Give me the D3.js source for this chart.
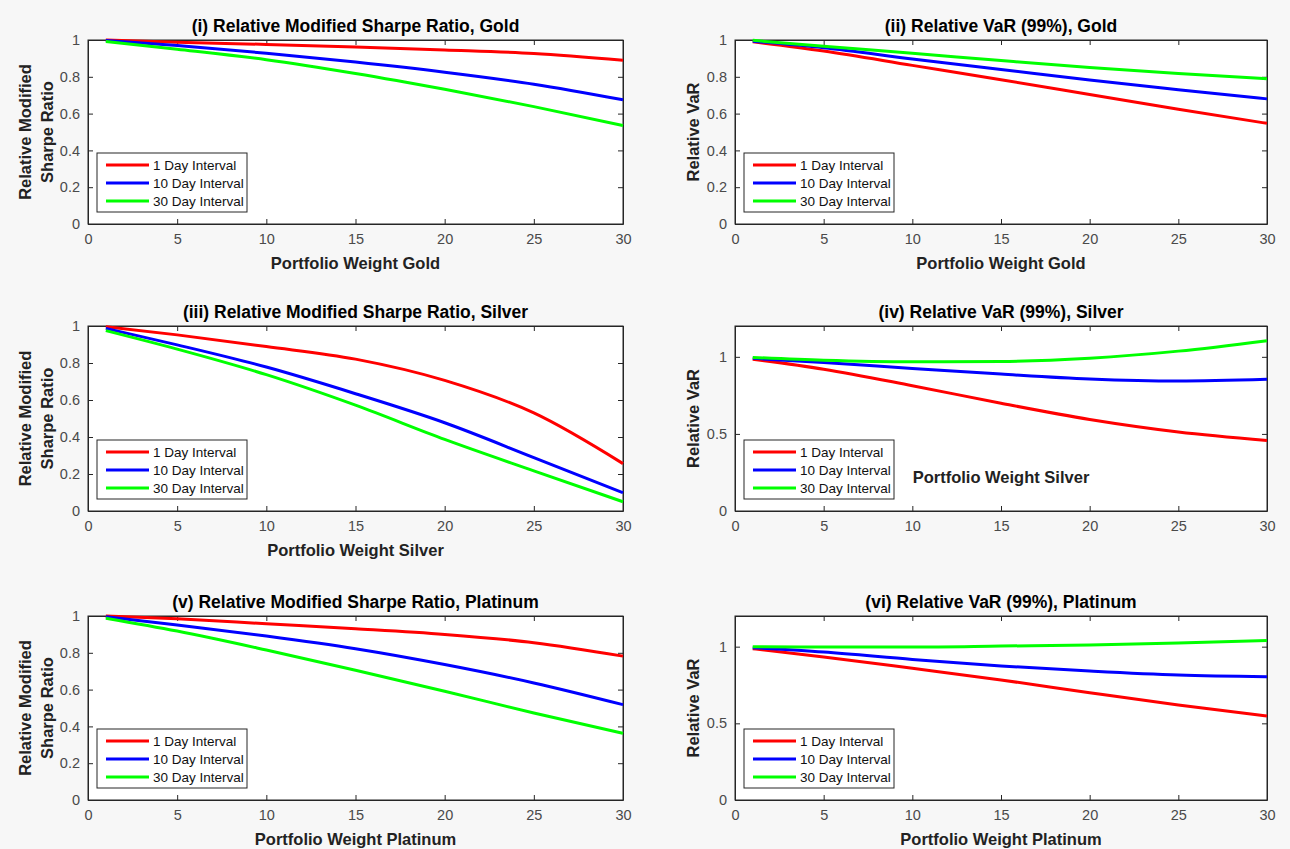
<!DOCTYPE html>
<html><head><meta charset="utf-8">
<script src="https://cdn.jsdelivr.net/npm/d3@7"></script>
<style>
html,body{margin:0;padding:0;background:#f7f7f7;}
svg{display:block;}
text{font-family:"Liberation Sans",Arial,Helvetica,sans-serif;}
</style></head>
<body>
<svg id="chart" width="1290" height="849"></svg>
<script>
// ---------- data ----------
const weights = [1, 5, 10, 15, 20, 25, 30];
const seriesNames = ["1 Day Interval", "10 Day Interval", "30 Day Interval"];
const xTicks = [0, 5, 10, 15, 20, 25, 30];
const yTicksSharpe = [0, 0.2, 0.4, 0.6, 0.8, 1];
const yTicksVaR = [0, 0.5, 1];

// (i) Relative Modified Sharpe Ratio, Gold
const sharpeGold1  = [1.000, 0.988, 0.976, 0.962, 0.946, 0.927, 0.890];
const sharpeGold10 = [0.997, 0.970, 0.928, 0.880, 0.825, 0.760, 0.675];
const sharpeGold30 = [0.992, 0.950, 0.893, 0.818, 0.732, 0.638, 0.535];
// (ii) Relative VaR (99%), Gold
const varGold1  = [0.990, 0.940, 0.862, 0.784, 0.704, 0.624, 0.547];
const varGold10 = [0.993, 0.958, 0.897, 0.840, 0.782, 0.730, 0.680];
const varGold30 = [0.998, 0.966, 0.928, 0.888, 0.850, 0.818, 0.790];
// (iii) Relative Modified Sharpe Ratio, Silver
const sharpeSilver1  = [0.996, 0.952, 0.889, 0.821, 0.706, 0.530, 0.256];
const sharpeSilver10 = [0.987, 0.898, 0.778, 0.634, 0.477, 0.289, 0.099];
const sharpeSilver30 = [0.975, 0.875, 0.737, 0.572, 0.387, 0.217, 0.050];
// (iv) Relative VaR (99%), Silver
const varSilver1  = [0.985, 0.920, 0.813, 0.699, 0.594, 0.513, 0.458];
const varSilver10 = [0.990, 0.963, 0.925, 0.888, 0.856, 0.843, 0.854];
const varSilver30 = [0.996, 0.978, 0.968, 0.970, 0.991, 1.037, 1.105];
// (v) Relative Modified Sharpe Ratio, Platinum
const sharpePlat1  = [1.000, 0.985, 0.958, 0.931, 0.900, 0.855, 0.782];
const sharpePlat10 = [0.996, 0.951, 0.891, 0.822, 0.736, 0.636, 0.518];
const sharpePlat30 = [0.988, 0.918, 0.815, 0.705, 0.591, 0.473, 0.362];
// (vi) Relative VaR (99%), Platinum
const varPlat1  = [0.987, 0.933, 0.859, 0.783, 0.700, 0.620, 0.548];
const varPlat10 = [0.993, 0.965, 0.917, 0.874, 0.841, 0.815, 0.804];
const varPlat30 = [1.000, 0.998, 0.998, 1.004, 1.011, 1.024, 1.041];

const colors = ["#ff0000", "#0000ff", "#00ff00"];

const panels = [
  {title:"(i) Relative Modified Sharpe Ratio, Gold", ylab:["Relative Modified","Sharpe Ratio"], xlab:"Portfolio Weight Gold", ymax:1, yt:yTicksSharpe, s:[sharpeGold1,sharpeGold10,sharpeGold30], col:0,row:0},
  {title:"(ii) Relative VaR (99%), Gold", ylab:["Relative VaR"], xlab:"Portfolio Weight Gold", ymax:1, yt:yTicksSharpe, s:[varGold1,varGold10,varGold30], col:1,row:0},
  {title:"(iii) Relative Modified Sharpe Ratio, Silver", ylab:["Relative Modified","Sharpe Ratio"], xlab:"Portfolio Weight Silver", ymax:1, yt:yTicksSharpe, s:[sharpeSilver1,sharpeSilver10,sharpeSilver30], col:0,row:1},
  {title:"(iv) Relative VaR (99%), Silver", ylab:["Relative VaR"], xlab:"Portfolio Weight Silver", xlabInside:true, ymax:1.2, yt:yTicksVaR, s:[varSilver1,varSilver10,varSilver30], col:1,row:1},
  {title:"(v) Relative Modified Sharpe Ratio, Platinum", ylab:["Relative Modified","Sharpe Ratio"], xlab:"Portfolio Weight Platinum", ymax:1, yt:yTicksSharpe, s:[sharpePlat1,sharpePlat10,sharpePlat30], col:0,row:2},
  {title:"(vi) Relative VaR (99%), Platinum", ylab:["Relative VaR"], xlab:"Portfolio Weight Platinum", ymax:1.2, yt:yTicksVaR, s:[varPlat1,varPlat10,varPlat30], col:1,row:2}
];

// ---------- layout ----------
const colX = [[88, 623], [735, 1267]];
const rowY = [[40, 224], [326, 511], [616, 800]];
const axisCol = "#262626";

const svg = d3.select("#chart");

panels.forEach(p => {
  const [x0, x1] = colX[p.col];
  const [y0, y1] = rowY[p.row];
  const x = d3.scaleLinear().domain([0, 30]).range([x0, x1]);
  const y = d3.scaleLinear().domain([0, p.ymax]).range([y1, y0]);
  const g = svg.append("g");

  g.append("rect").attr("x", x0).attr("y", y0).attr("width", x1 - x0).attr("height", y1 - y0)
    .attr("fill", "#ffffff");

  // axes (MATLAB style: inward ticks on all four sides)
  const tl = 5;
  const bottom = g.append("g").attr("transform", `translate(0,${y1})`)
    .call(d3.axisBottom(x).tickValues(xTicks).tickSizeInner(-tl).tickSizeOuter(0).tickPadding(10).tickFormat(d3.format("d")));
  const top = g.append("g").attr("transform", `translate(0,${y0})`)
    .call(d3.axisTop(x).tickValues(xTicks).tickSizeInner(-tl).tickSizeOuter(0).tickFormat(""));
  const left = g.append("g").attr("transform", `translate(${x0},0)`)
    .call(d3.axisLeft(y).tickValues(p.yt).tickSizeInner(-tl).tickSizeOuter(0).tickPadding(8).tickFormat(d => d3.format("~g")(d)));
  const right = g.append("g").attr("transform", `translate(${x1},0)`)
    .call(d3.axisRight(y).tickValues(p.yt).tickSizeInner(-tl).tickSizeOuter(0).tickFormat(""));
  [bottom, top, left, right].forEach(a => {
    a.select(".domain").attr("stroke", axisCol).attr("stroke-width", 1);
    a.selectAll(".tick line").attr("stroke", axisCol);
    a.selectAll(".tick text").attr("fill", "#4a4a4a").style("font-size", "14.5px").style("font-family", "'Liberation Sans', Arial, sans-serif");
  });
  // closing box lines
  g.append("rect").attr("x", x0).attr("y", y0).attr("width", x1 - x0).attr("height", y1 - y0)
    .attr("fill", "none").attr("stroke", axisCol).attr("stroke-width", 1);

  // lines
  const line = d3.line().x((d, i) => x(weights[i])).y(d => y(d)).curve(d3.curveMonotoneX);
  p.s.forEach((arr, k) => {
    g.append("path").datum(arr).attr("d", line).attr("fill", "none")
      .attr("stroke", colors[k]).attr("stroke-width", 3).attr("stroke-linejoin", "round");
  });

  // title
  g.append("text").attr("x", (x0 + x1) / 2).attr("y", y0 - 8).attr("text-anchor", "middle")
    .style("font-size", "17.5px").style("font-weight", "bold").attr("fill", "#000").text(p.title);

  // x label
  const lblSize = "16.5px";
  if (p.xlabInside) {
    g.append("text").attr("x", (x0 + x1) / 2).attr("y", y1 - 28).attr("text-anchor", "middle")
      .style("font-size", lblSize).style("font-weight", "bold").attr("fill", "#222").text(p.xlab);
  } else {
    g.append("text").attr("x", (x0 + x1) / 2).attr("y", y1 + 45).attr("text-anchor", "middle")
      .style("font-size", lblSize).style("font-weight", "bold").attr("fill", "#222").text(p.xlab);
  }

  // y label
  const cy = (y0 + y1) / 2;
  if (p.ylab.length === 2) {
    const lx = [x0 - 57, x0 - 35];
    p.ylab.forEach((t, i) => {
      g.append("text").attr("transform", `translate(${lx[i]},${cy}) rotate(-90)`).attr("text-anchor", "middle")
        .style("font-size", lblSize).style("font-weight", "bold").attr("fill", "#222").text(t);
    });
  } else {
    g.append("text").attr("transform", `translate(${x0 - 36},${cy}) rotate(-90)`).attr("text-anchor", "middle")
      .style("font-size", lblSize).style("font-weight", "bold").attr("fill", "#222").text(p.ylab[0]);
  }

  // legend
  const lw = 150, lh = 59;
  const lx0 = x0 + 9, ly0 = y1 - 12 - lh;
  const lg = g.append("g");
  lg.append("rect").attr("x", lx0).attr("y", ly0).attr("width", lw).attr("height", lh)
    .attr("fill", "#fff").attr("stroke", axisCol).attr("stroke-width", 1);
  seriesNames.forEach((n, k) => {
    const yy = ly0 + 12 + k * 18;
    lg.append("line").attr("x1", lx0 + 9).attr("x2", lx0 + 52).attr("y1", yy).attr("y2", yy)
      .attr("stroke", colors[k]).attr("stroke-width", 3);
    lg.append("text").attr("x", lx0 + 56).attr("y", yy + 4.5).style("font-size", "13.5px")
      .attr("fill", "#111").text(n);
  });
});
</script>
</body></html>
